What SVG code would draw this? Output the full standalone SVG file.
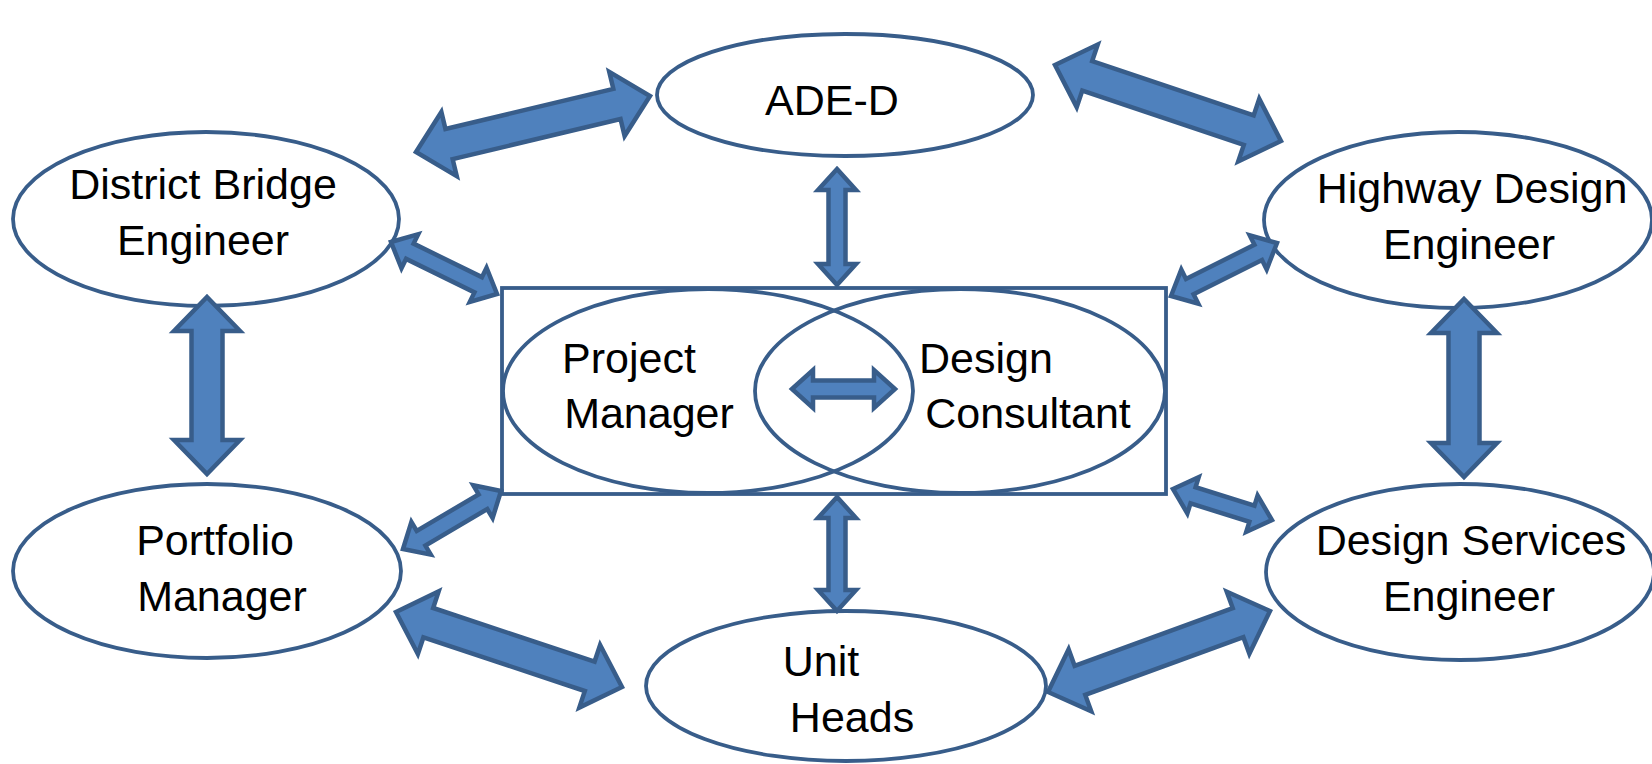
<svg xmlns="http://www.w3.org/2000/svg" width="1652" height="764" viewBox="0 0 1652 764">
<style>
.node{fill:#FFFFFF;stroke:#385D8A;stroke-width:3.8}
.box{fill:none;stroke:#385D8A;stroke-width:3.8}
.arr{fill:#4F81BD;stroke:#385D8A;stroke-width:4.5;stroke-linejoin:miter;stroke-miterlimit:10}
.t{font-family:"Liberation Sans",Arial,sans-serif;font-size:43px;fill:#000000;text-anchor:middle}
</style>
<rect width="1652" height="764" fill="#FFFFFF"/>
<g id="center-box">
<rect class="box" x="502" y="288" width="664" height="206"/>
</g>
<g id="project-manager">
<ellipse class="node" style="fill:none" cx="708" cy="391" rx="205" ry="102"/>
<text class="t" x="629" y="373">Project</text>
<text class="t" x="649" y="428">Manager</text>
</g>
<g id="design-consultant">
<ellipse class="node" style="fill:none" cx="960" cy="391" rx="205" ry="102"/>
<text class="t" x="986" y="373">Design</text>
<text class="t" x="1028" y="428">Consultant</text>
</g>
<g id="ade-d">
<ellipse class="node" cx="845" cy="95" rx="188" ry="61"/>
<text class="t" x="832" y="115">ADE-D</text>
</g>
<g id="district-bridge-engineer">
<ellipse class="node" cx="206" cy="219" rx="193" ry="87"/>
<text class="t" x="203" y="199">District Bridge</text>
<text class="t" x="203" y="255">Engineer</text>
</g>
<g id="highway-design-engineer">
<ellipse class="node" cx="1458" cy="220" rx="194" ry="88"/>
<text class="t" x="1472" y="203">Highway Design</text>
<text class="t" x="1469" y="259">Engineer</text>
</g>
<g id="portfolio-manager">
<ellipse class="node" cx="207" cy="571" rx="194" ry="87"/>
<text class="t" x="215" y="555">Portfolio</text>
<text class="t" x="222" y="611">Manager</text>
</g>
<g id="design-services-engineer">
<ellipse class="node" cx="1460" cy="572" rx="194" ry="88"/>
<text class="t" x="1471" y="555">Design Services</text>
<text class="t" x="1469" y="611">Engineer</text>
</g>
<g id="unit-heads">
<ellipse class="node" cx="846" cy="686" rx="200" ry="75"/>
<text class="t" x="821" y="676">Unit</text>
<text class="t" x="852" y="732">Heads</text>
</g>
<g id="connectors">
<polygon class="arr" transform="translate(416 152) rotate(-13.46)" points="0,0 34,-33 34,-15.5 206.6,-15.5 206.6,-33 240.6,0 206.6,33 206.6,15.5 34,15.5 34,33"/>
<polygon class="arr" transform="translate(1055 65) rotate(18.59)" points="0,0 34,-33 34,-15.5 204.4,-15.5 204.4,-33 238.4,0 204.4,33 204.4,15.5 34,15.5 34,33"/>
<polygon class="arr" transform="translate(207 297) rotate(90)" points="0,0 34,-33 34,-15.5 143,-15.5 143,-33 177,0 143,33 143,15.5 34,15.5 34,33"/>
<polygon class="arr" transform="translate(1464 299) rotate(90)" points="0,0 34,-33 34,-15.5 144,-15.5 144,-33 178,0 144,33 144,15.5 34,15.5 34,33"/>
<polygon class="arr" transform="translate(396 612) rotate(18.36)" points="0,0 34,-33 34,-15.5 204.1,-15.5 204.1,-33 238.1,0 204.1,33 204.1,15.5 34,15.5 34,33"/>
<polygon class="arr" transform="translate(1048 692) rotate(-20.05)" points="0,0 34,-33 34,-15.5 202.3,-15.5 202.3,-33 236.3,0 202.3,33 202.3,15.5 34,15.5 34,33"/>
<polygon class="arr" transform="translate(391 242) rotate(26.13)" points="0,0 21,-19 21,-8.5 97.1,-8.5 97.1,-19 118.1,0 97.1,19 97.1,8.5 21,8.5 21,19"/>
<polygon class="arr" transform="translate(1171 296) rotate(-26.57)" points="0,0 21,-19 21,-8.5 97.5,-8.5 97.5,-19 118.5,0 97.5,19 97.5,8.5 21,8.5 21,19"/>
<polygon class="arr" transform="translate(403 549) rotate(-30.62)" points="0,0 21,-19 21,-8.5 92.9,-8.5 92.9,-19 113.9,0 92.9,19 92.9,8.5 21,8.5 21,19"/>
<polygon class="arr" transform="translate(1173 489) rotate(17.4)" points="0,0 21,-19 21,-8.5 82.7,-8.5 82.7,-19 103.7,0 82.7,19 82.7,8.5 21,8.5 21,19"/>
<polygon class="arr" transform="translate(837 169) rotate(90)" points="0,0 21,-19 21,-8.5 95,-8.5 95,-19 116,0 95,19 95,8.5 21,8.5 21,19"/>
<polygon class="arr" transform="translate(837 497) rotate(90)" points="0,0 21,-19 21,-8.5 93,-8.5 93,-19 114,0 93,19 93,8.5 21,8.5 21,19"/>
<polygon class="arr" transform="translate(792 389)" points="0,0 21,-19 21,-8.5 82,-8.5 82,-19 103,0 82,19 82,8.5 21,8.5 21,19"/>
</g>
</svg>
